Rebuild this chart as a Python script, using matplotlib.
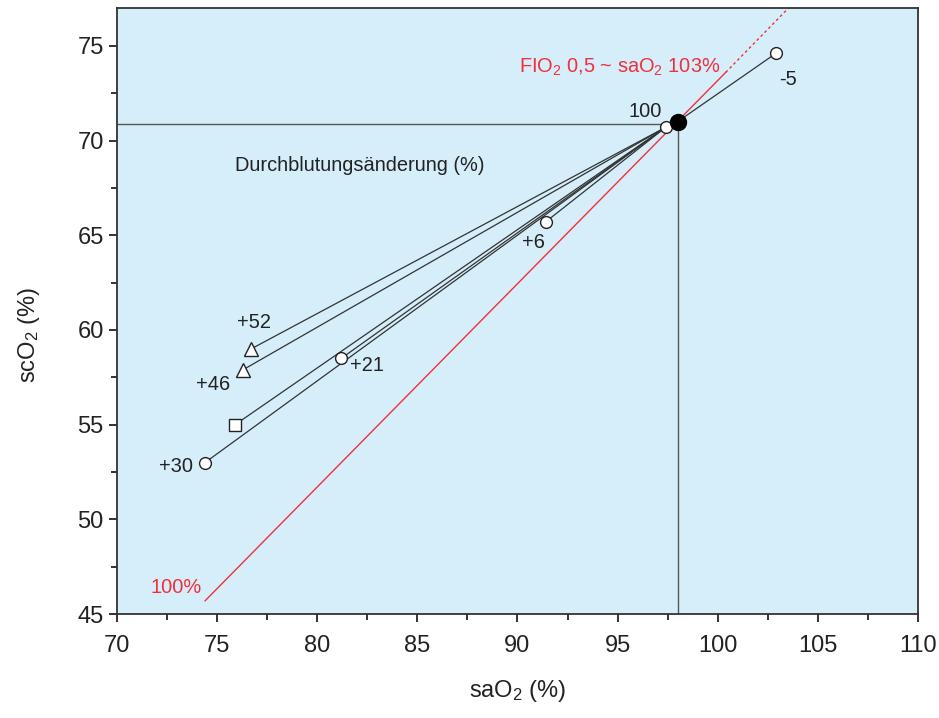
import matplotlib
matplotlib.use('Agg')
import matplotlib.pyplot as plt

plt.rcParams['font.family'] = ['Liberation Sans', 'DejaVu Sans']
plt.rcParams['mathtext.fontset'] = 'custom'
plt.rcParams['mathtext.rm'] = 'Liberation Sans'
plt.rcParams['mathtext.it'] = 'Liberation Sans:italic'

# Bezugspunkt (FiO2 0,5) und Ausgangspunkt 100 %
ref_x, ref_y = 98.0, 70.9
base_x, base_y = 97.4, 70.7

# offene Kreise
circ_x = [102.9, 91.4, 81.2, 74.4]
circ_y = [74.6, 65.7, 58.5, 53.0]
circ_lab = ['-5', '+6', '+21', '+30']

# Quadrat
sq_x = [75.9]
sq_y = [55.0]

# Dreiecke
tri_x = [76.7, 76.3]
tri_y = [59.0, 57.9]
tri_lab = ['+52', '+46']

# rote Linie (100 %), durchgezogen / gestrichelt
red_x = [74.4, 100.4, 104.0]
red_y = [45.7, 73.6, 77.5]

fig = plt.figure(figsize=(9.39, 7.18), dpi=100)
ax = fig.add_axes([0.1246, 0.1448, 0.853, 0.8441])
ax.set_facecolor('#d5eefa')

# Hilfslinien
ax.plot([70, ref_x], [ref_y, ref_y], color='#555555', lw=1.0, zorder=1)
ax.plot([ref_x, ref_x], [45, ref_y], color='#555555', lw=1.0, zorder=1)

ax.plot(red_x[:2], red_y[:2], color='#f0303c', lw=1.0, zorder=2)
ax.plot(red_x[1:], red_y[1:], color='#f0303c', lw=1.0, ls=(0, (2, 2)), zorder=2)

# Verbindungslinien
for x, y in zip(circ_x[1:] + sq_x + tri_x, circ_y[1:] + sq_y + tri_y):
    ax.plot([x, base_x], [y, base_y], color='#333333', lw=0.9, zorder=3)
ax.plot([circ_x[0], ref_x], [circ_y[0], ref_y + 0.1], color='#333333', lw=0.9, zorder=3)

ax.plot(circ_x, circ_y, 'o', ls='none', ms=8.5, mfc='white', mec='#222222', mew=1.0, zorder=5)
ax.plot([base_x], [base_y], 'o', ms=8.5, mfc='white', mec='#222222', mew=1.0, zorder=5)
ax.plot(sq_x, sq_y, 's', ls='none', ms=8, mfc='white', mec='#222222', mew=1.0, zorder=5)
ax.plot(tri_x, tri_y, '^', ls='none', ms=10, mfc='white', mec='#222222', mew=1.0, zorder=5)
ax.plot([ref_x], [ref_y + 0.1], 'o', ms=11.5, color='black', zorder=6)

fs = 14.4
ax.text(103.5, 73.2, '-5', fontsize=fs, ha='center', va='center', color='#222222')
ax.text(96.4, 71.55, '100', fontsize=fs, ha='center', va='center', color='#222222')
ax.text(90.8, 64.6, '+6', fontsize=fs, ha='center', va='center', color='#222222')
ax.text(82.5, 58.1, '+21', fontsize=fs, ha='center', va='center', color='#222222')
ax.text(72.95, 52.8, '+30', fontsize=fs, ha='center', va='center', color='#222222')
ax.text(76.85, 60.4, '+52', fontsize=fs, ha='center', va='center', color='#222222')
ax.text(74.8, 57.1, '+46', fontsize=fs, ha='center', va='center', color='#222222')
ax.text(75.9, 68.66, 'Durchblutungsänderung (%)', fontsize=fs, ha='left', va='center',
        color='#222222')
ax.text(90.1, 73.84, r'FIO$_2$ 0,5 ~ saO$_2$ 103%', fontsize=fs, ha='left', va='center',
        color='#f0303c')
ax.text(71.65, 46.4, '100%', fontsize=fs, ha='left', va='center', color='#f0303c')

ax.set_xlim(70, 110)
ax.set_ylim(45, 77)
ax.set_xticks(range(70, 111, 5))
ax.set_yticks(range(45, 76, 5))
ax.set_xticks([72.5 + 5 * i for i in range(8)], minor=True)
ax.set_yticks([47.5 + 5 * i for i in range(6)], minor=True)
ax.tick_params(which='both', direction='out', width=1.3, labelsize=17, colors='#222222')
ax.tick_params(which='major', length=6)
ax.tick_params(which='minor', length=4)
ax.tick_params(axis='x', pad=9)
for s in ax.spines.values():
    s.set_linewidth(1.3)
    s.set_color('#333333')

ax.set_xlabel(r'saO$_2$ (%)', fontsize=17, color='#222222')
ax.set_ylabel(r'scO$_2$ (%)', fontsize=17, color='#222222')
ax.xaxis.set_label_coords(0.5, -0.106)
ax.yaxis.set_label_coords(-0.094, 0.46)

fig.savefig('out.png', dpi=100)
